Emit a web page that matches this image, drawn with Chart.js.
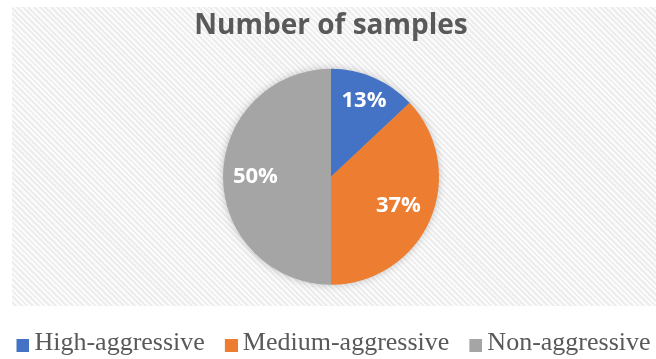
<!DOCTYPE html>
<html>
<head>
<meta charset="utf-8">
<script src="https://cdn.jsdelivr.net/npm/chart.js@4.4.1/dist/chart.umd.min.js"></script>
<style>
  html, body { margin: 0; padding: 0; background: #fff; overflow: hidden; }
  #wrap { position: relative; width: 656px; height: 359px; }
  #hatch {
    position: absolute; left: 12px; top: 7px; width: 644px; height: 299px;
    background: repeating-linear-gradient(45deg, #fbfbfb 0px, #fbfbfb 2px, #ededed 2px, #ededed 4px);
  }
  #pie { position: absolute; left: 0; top: 0; }
</style>
</head>
<body>
<div id="wrap">
  <div id="hatch"></div>
  <canvas id="pie" width="656" height="359"></canvas>
</div>
<script>
const categories = ['High-aggressive', 'Medium-aggressive', 'Non-aggressive'];
const shares = [13, 37, 50];
const colors = ['#4472C4', '#ED7D31', '#A5A5A5'];
// how far out (fraction of radius) each percentage label sits
const labelRadius = [0.77, 0.68, 0.70];

// legend squares sit close to their text, so draw them as small images
// whose coloured part is shifted to the right of the slot Chart.js gives
function legendSquare(color) {
    const c = document.createElement('canvas');
    c.width = 26;
    c.height = 18;
    const g = c.getContext('2d');
    g.fillStyle = color;
    g.fillRect(13, 5, 13, 13);
    return c;
}
const squares = colors.map(legendSquare);

const pieShadow = {
    id: 'pieShadow',
    beforeDatasetsDraw(chart) {
        const arc = chart.getDatasetMeta(0).data[0];
        if (!arc) return;
        const ctx = chart.ctx;
        ctx.save();
        ctx.shadowColor = 'rgba(0, 0, 0, 0.28)';
        ctx.shadowBlur = 9;
        ctx.fillStyle = '#a5a5a5';
        ctx.beginPath();
        ctx.arc(arc.x, arc.y, arc.outerRadius - 1, 0, Math.PI * 2);
        ctx.fill();
        ctx.restore();
    }
};

const pctLabels = {
    id: 'pctLabels',
    afterDatasetsDraw(chart) {
        const ctx = chart.ctx;
        ctx.save();
        ctx.font = 'bold 22px "Open Sans"';
        ctx.fillStyle = '#ffffff';
        ctx.textAlign = 'center';
        ctx.textBaseline = 'middle';
        chart.getDatasetMeta(0).data.forEach((arc, i) => {
            const p = arc.getProps(['x', 'y', 'startAngle', 'endAngle', 'outerRadius'], true);
            const mid = (p.startAngle + p.endAngle) / 2;
            const r = p.outerRadius * labelRadius[i];
            ctx.fillText(shares[i] + '%', p.x + Math.cos(mid) * r, p.y + Math.sin(mid) * r);
        });
        ctx.restore();
    }
};

const ctx1 = document.getElementById('pie').getContext('2d');
const pie = new Chart(ctx1, {
    type: 'pie',
    data: {
        labels: categories,
        datasets: [{
            data: shares,
            backgroundColor: colors,
            borderWidth: 0,
            radius: 108
        }]
    },
    options: {
        responsive: false,
        animation: false,
        layout: {
            padding: { left: 6, right: 0, top: 0, bottom: -7 }
        },
        plugins: {
            title: {
                display: true,
                text: 'Number of samples',
                color: '#595959',
                font: { family: '"Open Sans"', size: 28, weight: 'bold', lineHeight: 1.2 },
                padding: { top: 9, bottom: 10 }
            },
            legend: {
                position: 'bottom',
                title: {
                    display: true,
                    text: '',
                    padding: 0,
                    font: { size: 12, lineHeight: '27px' }
                },
                labels: {
                    usePointStyle: true,
                    pointStyleWidth: 10,
                    boxHeight: 12,
                    padding: 2,
                    color: '#595959',
                    font: { family: '"Liberation Serif"', size: 26 },
                    generateLabels(chart) {
                        const items = Chart.overrides.pie.plugins.legend.labels.generateLabels(chart);
                        items.forEach((item, i) => {
                            item.pointStyle = squares[i];
                            if (i < items.length - 1) item.text += '  ';
                        });
                        return items;
                    }
                }
            },
            tooltip: { enabled: false }
        }
    },
    plugins: [pieShadow, pctLabels]
});
</script>
</body>
</html>
